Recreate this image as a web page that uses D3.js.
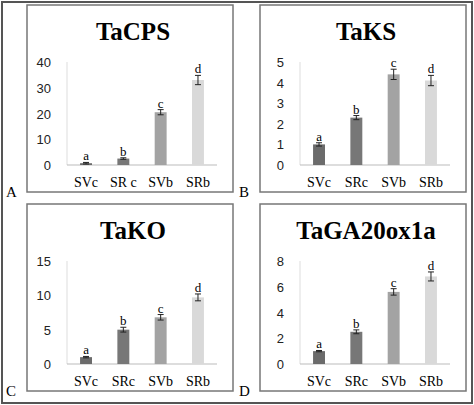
<!DOCTYPE html>
<html>
<head>
<meta charset="utf-8">
<script src="https://cdn.jsdelivr.net/npm/d3@7"></script>
<style>
body { margin: 0; background: white; }
.serif { font-family: "Liberation Serif", "DejaVu Serif", serif; }
</style>
</head>
<body>
<svg id="chart" width="474" height="405"></svg>
<script>
var categories = ["SVc", "SRc", "SVb", "SRb"]
var catLabelsA = ["SVc", "SR c", "SVb", "SRb"]
var titles = ["TaCPS", "TaKS", "TaKO", "TaGA20ox1a"]
var letters = ["A", "B", "C", "D"]
var cpsVals = [0.7, 2.5, 20.5, 33], cpsErr = [0.3, 0.3, 1.0, 1.8]
var ksVals = [1.0, 2.3, 4.4, 4.1], ksErr = [0.08, 0.1, 0.25, 0.25]
var koVals = [1.0, 5.0, 6.8, 9.7], koErr = [0.1, 0.35, 0.4, 0.5]
var gaVals = [1.0, 2.5, 5.6, 6.8], gaErr = [0.05, 0.15, 0.25, 0.35]
var maxes = [40, 5, 15, 8]
var tickSteps = [10, 1, 5, 2]
var sigLetters = ["a", "b", "c", "d"]
var barColors = ["#6b6b6b", "#777777", "#a3a3a3", "#d9d9d9"]

var svg = d3.select("#chart")
svg.append("rect").attr("x", 2).attr("y", 2).attr("width", 470).attr("height", 401)
  .attr("fill", "white").attr("stroke", "#555").attr("stroke-width", 2)

var panels = [
  {x: 27, y: 5, vals: cpsVals, err: cpsErr, labels: catLabelsA},
  {x: 260, y: 5, vals: ksVals, err: ksErr, labels: categories},
  {x: 27, y: 204, vals: koVals, err: koErr, labels: categories},
  {x: 260, y: 204, vals: gaVals, err: gaErr, labels: categories}
]

panels.forEach(function(p, i) {
  var g = svg.append("g").attr("transform", "translate(" + p.x + "," + p.y + ")")
  g.append("rect").attr("width", 206).attr("height", 187)
    .attr("fill", "white").attr("stroke", "#777").attr("stroke-width", 1.5)
  g.append("text").attr("class", "serif").attr("x", 106).attr("y", 35).attr("text-anchor", "middle")
    .attr("font-weight", "bold").attr("font-size", 25)
    .text(titles[i])
  svg.append("text").attr("class", "serif").attr("x", p.x - 21).attr("y", p.y + 192)
    .attr("font-size", 15).text(letters[i])

  var y = d3.scaleLinear().domain([0, maxes[i]]).range([160, 57])
  var x = d3.scaleBand().domain(categories).range([40, 190]).paddingInner(0.68).paddingOuter(0.35)

  var ticks = d3.range(0, maxes[i] + 0.001, tickSteps[i])
  g.selectAll(".tl").data(ticks).enter().append("text")
    .attr("x", 24).attr("y", function(d) { return y(d) + 5 }).attr("text-anchor", "end")
    .attr("font-family", "Liberation Sans").attr("font-size", 13).attr("fill", "#222")
    .text(function(d) { return d })
  g.append("line").attr("x1", 40).attr("x2", 40).attr("y1", y(maxes[i])).attr("y2", 160).attr("stroke", "#ddd")
  g.append("line").attr("x1", 40).attr("x2", 190).attr("y1", 160).attr("y2", 160).attr("stroke", "#bbb")

  g.selectAll(".bar").data(p.vals).enter().append("rect")
    .attr("x", function(d, j) { return x(categories[j]) })
    .attr("width", x.bandwidth())
    .attr("y", function(d) { return y(d) })
    .attr("height", function(d) { return 160 - y(d) })
    .attr("fill", function(d, j) { return barColors[j] })

  p.vals.forEach(function(v, j) {
    var cx = x(categories[j]) + x.bandwidth() / 2
    var t = y(v + p.err[j]), b = y(v - p.err[j])
    g.append("line").attr("x1", cx).attr("x2", cx).attr("y1", t).attr("y2", b).attr("stroke", "#222")
    g.append("line").attr("x1", cx - 3).attr("x2", cx + 3).attr("y1", t).attr("y2", t).attr("stroke", "#222")
    g.append("line").attr("x1", cx - 3).attr("x2", cx + 3).attr("y1", b).attr("y2", b).attr("stroke", "#222")
    g.append("text").attr("class", "serif").attr("x", cx).attr("y", t - 2).attr("text-anchor", "middle")
      .attr("font-size", 13).text(sigLetters[j])
    g.append("text").attr("class", "serif").attr("x", cx).attr("y", 182).attr("text-anchor", "middle")
      .attr("font-size", 14).text(p.labels[j])
  })
})
</script>
</body>
</html>
